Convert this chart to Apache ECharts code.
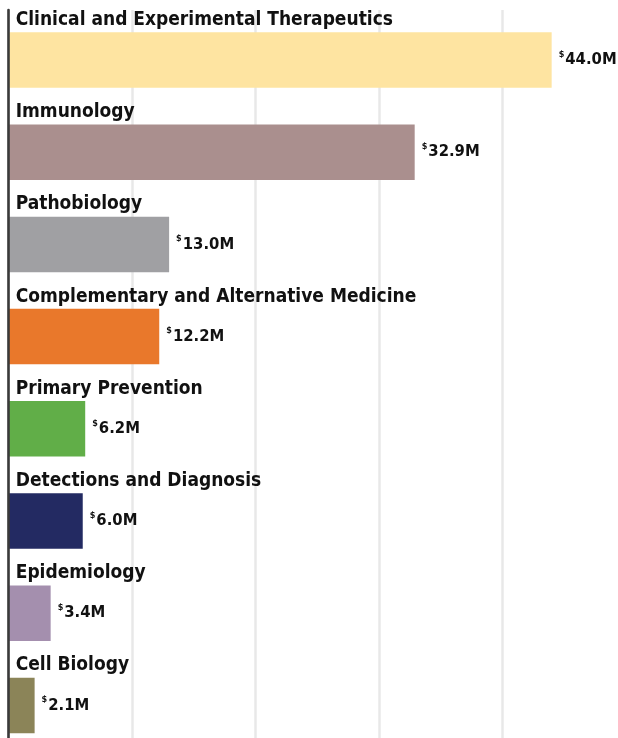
<!DOCTYPE html>
<html>
<head>
<meta charset="utf-8">
<script src="https://cdn.jsdelivr.net/npm/echarts@6/dist/echarts.min.js"></script>
<style>
html,body{margin:0;padding:0;background:#fff;overflow:hidden;}
#main{width:618px;height:738px;}
</style>
</head>
<body>
<div id="main"></div>
<script>
var categories = [
  "Clinical and Experimental Therapeutics",
  "Immunology",
  "Pathobiology",
  "Complementary and Alternative Medicine",
  "Primary Prevention",
  "Detections and Diagnosis",
  "Epidemiology",
  "Cell Biology"
];
var values = [44.0, 32.9, 13.0, 12.2, 6.2, 6.0, 3.4, 2.1];
var gridTicks = [0, 10, 20, 30, 40, 50];

var palette = ["#FEE4A1", "#AA8F8E", "#A0A0A3", "#E9782B", "#61AE48", "#232A62", "#A48FAE", "#8B8458"];
var FONT = "'DejaVu Sans Condensed', 'Liberation Sans Narrow', 'Roboto', sans-serif";

var chart = echarts.init(document.getElementById('main'), null, {renderer: 'canvas'});
var option = {
  animation: false,
  backgroundColor: '#fff',
  grid: [
    {left: 8.7, width: 617, top: 10, bottom: 0, containLabel: false, outerBoundsMode: 'none'},
    {left: 8.7, width: 617, top: 13.9, height: 737.6, containLabel: false, outerBoundsMode: 'none'}
  ],
  xAxis: [
    {
      gridIndex: 0, type: 'value',
      min: gridTicks[0], max: gridTicks[gridTicks.length - 1], interval: 10,
      axisLine: {show: false}, axisTick: {show: false}, axisLabel: {show: false},
      splitLine: {show: true, lineStyle: {color: '#e8e8e8', width: 2.5}}
    },
    {
      gridIndex: 1, type: 'value',
      min: gridTicks[0], max: gridTicks[gridTicks.length - 1],
      axisLine: {show: false}, axisTick: {show: false}, axisLabel: {show: false},
      splitLine: {show: false}
    }
  ],
  yAxis: [
    {
      gridIndex: 0, type: 'value', min: 0, max: 1, z: 10,
      axisLine: {show: true, lineStyle: {color: '#3a3a3a', width: 2.6}},
      axisTick: {show: false}, axisLabel: {show: false}, splitLine: {show: false}
    },
    {
      gridIndex: 1, type: 'category', data: categories, inverse: true,
      axisLine: {show: false}, axisTick: {show: false}, splitLine: {show: false},
      axisLabel: {
        show: true, inside: true, margin: 7,
        align: 'left', verticalAlign: 'bottom',
        fontFamily: FONT, fontWeight: 'bold', fontSize: 19, lineHeight: 22,
        color: '#111', padding: [0, 0, 29, 0]
      }
    }
  ],
  series: [
    {
      type: 'bar',
      xAxisIndex: 1, yAxisIndex: 1,
      barWidth: 55.5,
      data: values.map(function (v, i) {
        return {value: v, itemStyle: {color: palette[i]}};
      }),
      label: {
        show: true, position: 'right', distance: 7,
        formatter: function (p) {
          return '{s|$}{v|' + p.value.toFixed(1) + 'M}';
        },
        rich: {
          s: {fontFamily: FONT, fontWeight: 'bold', fontSize: 9, color: '#111', verticalAlign: 'top', lineHeight: 10, padding: [0, 1, 0, 0]},
          v: {fontFamily: FONT, fontWeight: 'bold', fontSize: 16.5, color: '#111', lineHeight: 20}
        }
      }
    }
  ]
};
chart.setOption(option);
</script>
</body>
</html>
